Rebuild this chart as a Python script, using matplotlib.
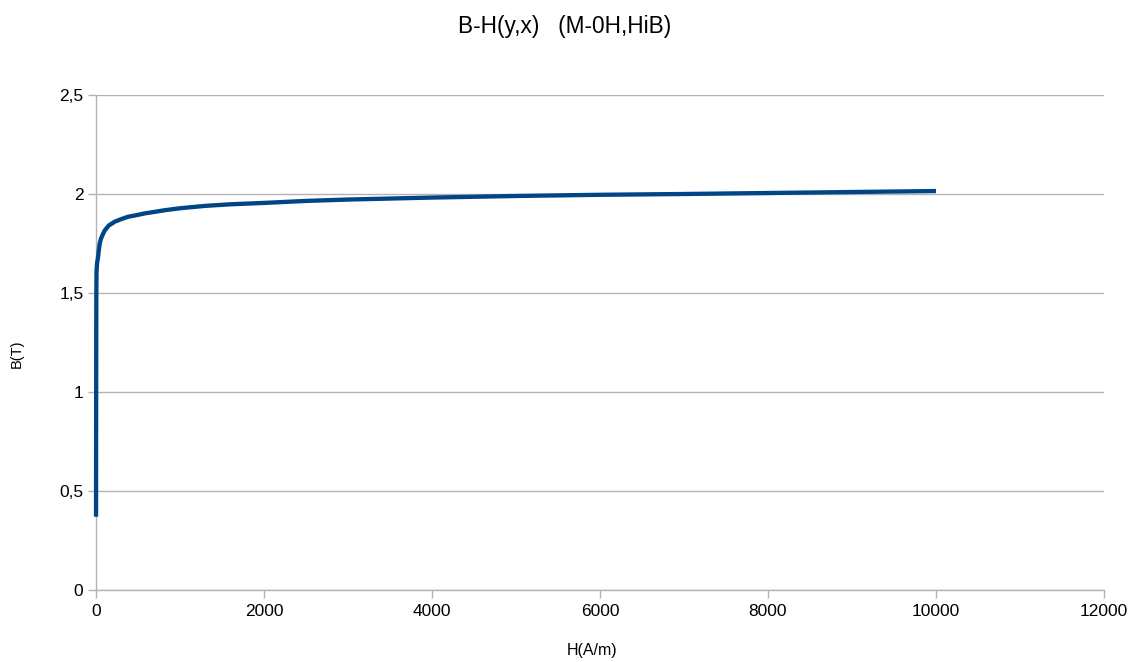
import matplotlib
matplotlib.use("Agg")
import matplotlib.pyplot as plt
from matplotlib.ticker import FuncFormatter

# Magnetisation curve, grain-oriented steel M-0H (HiB)
H_values = [0.5, 1, 1.5, 2, 2.5, 3, 4, 6, 9, 13, 18, 24, 32, 44, 60, 80, 103,
            150, 222, 300, 381, 480, 580, 700, 817, 1000, 1300, 1600, 2000, 2500,
            3000, 4000, 5000, 6000, 7000, 8000, 9000, 10000]
B_values = [0.37, 0.6, 0.8, 1.0, 1.15, 1.3, 1.5, 1.6, 1.63, 1.65, 1.665, 1.68,
            1.71, 1.75, 1.775, 1.795, 1.815, 1.84, 1.86, 1.873, 1.885, 1.893,
            1.902, 1.91, 1.918, 1.928, 1.94, 1.948, 1.955, 1.965, 1.972, 1.982,
            1.99, 1.996, 2.0, 2.005, 2.01, 2.015]

x_ticks = [0, 2000, 4000, 6000, 8000, 10000, 12000]
y_ticks = [0, 0.5, 1, 1.5, 2, 2.5]

title_text = "B-H(y,x)   (M-0H,HiB)"
x_label = "H(A/m)"
y_label = "B(T)"

plt.rcParams["font.family"] = ["Liberation Sans", "DejaVu Sans"]

fig = plt.figure(figsize=(11.34, 6.62), dpi=100)
ax = fig.add_axes([96 / 1134, 1 - 590 / 662, 1008 / 1134, 495 / 662])

grid_col = "#b3b3b3"
ax.plot(H_values, B_values, color="#004586", lw=3.1, solid_capstyle="butt",
        solid_joinstyle="round", zorder=3, clip_on=False)

ax.set_xlim(0, 12000)
ax.set_ylim(0, 2.5)
ax.set_xticks(x_ticks)
ax.set_yticks(y_ticks)

comma = FuncFormatter(lambda v, p: ("%g" % v).replace(".", ","))
ax.yaxis.set_major_formatter(comma)
ax.xaxis.set_major_formatter(FuncFormatter(lambda v, p: "%d" % v))

ax.grid(axis="y", color=grid_col, lw=1)
for side in ("top", "right"):
    ax.spines[side].set_visible(False)
for side in ("left", "bottom"):
    ax.spines[side].set_color(grid_col)
    ax.spines[side].set_linewidth(1)
ax.tick_params(axis="both", colors=grid_col, length=6, width=1, labelsize=12.5,
               labelcolor="black", direction="out")
ax.tick_params(axis="x", pad=4)
ax.tick_params(axis="y", pad=3)

fig.text(564.5 / 1134, 1 - 27 / 662, title_text, ha="center", va="center",
         fontsize=16.3)
fig.text(592 / 1134, 1 - 651 / 662, x_label, ha="center", va="center",
         fontsize=11.5)
fig.text(17 / 1134, 1 - 354 / 662, y_label, ha="center", va="center",
         fontsize=10.5, rotation=90)

fig.savefig("out.png", dpi=100, facecolor="white")
